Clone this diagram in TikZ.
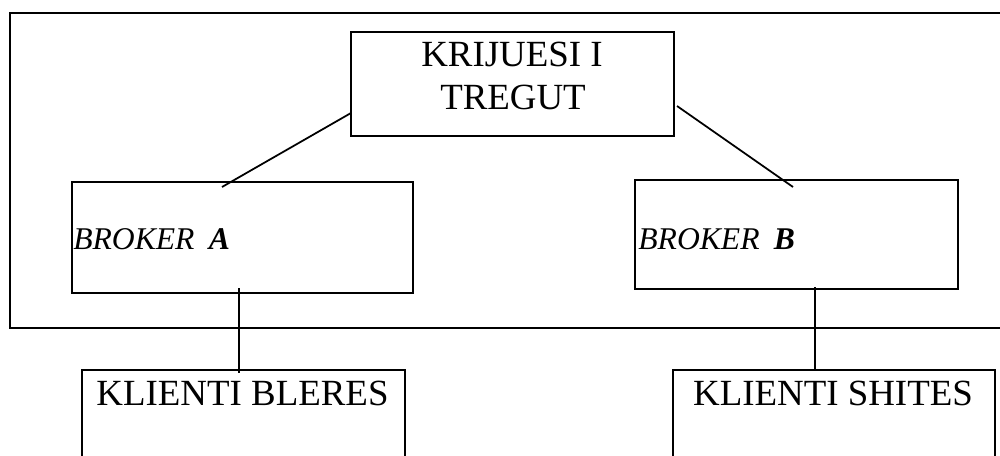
\documentclass[tikz,border=0pt]{standalone}
\usepackage{fontspec}
\setmainfont{Liberation Serif}
\begin{document}
\begin{tikzpicture}[x=0.02cm,y=-0.02cm,
  box/.style={draw,line width=1pt,anchor=north west,inner sep=0pt},
  big/.style={font=\fontsize{21}{25}\selectfont,inner sep=0pt,anchor=base},
  small/.style={font=\fontsize{18}{22}\selectfont\itshape,inner sep=0pt,anchor=base west},
  conn/.style={line width=1pt}]
\useasboundingbox (0,0) rectangle (1000,456);
\clip (0,0) rectangle (1000,456);
\fill[white] (0,0) rectangle (1000,456);
% outer frame
\node[box,minimum width=1010*0.02cm,minimum height=315*0.02cm] (frame) at (9,12) {};
% boxes
\node[box,minimum width=323*0.02cm,minimum height=104*0.02cm] (top) at (350,31) {};
\node[box,minimum width=341*0.02cm,minimum height=111*0.02cm] (ba) at (71,181) {};
\node[box,minimum width=323*0.02cm,minimum height=109*0.02cm] (bb) at (634,179) {};
\node[box,minimum width=323*0.02cm,minimum height=120*0.02cm] (kb) at (81,369) {};
\node[box,minimum width=322*0.02cm,minimum height=120*0.02cm] (ks) at (672,369) {};
% texts
\node[big] (t1) at (512,67) {KRIJUESI I};
\node[big] (t2) at (513,110) {TREGUT};
\node[small] (la) at (73,249) {BROKER\hspace{0.45em}\textbf{A}};
\node[small] (lb) at (638,249) {BROKER\hspace{0.45em}\textbf{B}};
\node[big] (lk1) at (242.5,405) {KLIENTI BLERES};
\node[big] (lk2) at (833,405) {KLIENTI SHITES};
% connector end points
\coordinate (ca1) at (351,113);
\coordinate (ca2) at (222,187);
\coordinate (cb1) at (677,106);
\coordinate (cb2) at (793,187);
\coordinate (va1) at (239,288);
\coordinate (va2) at (239,373);
\coordinate (vb1) at (815,287);
\coordinate (vb2) at (815,370);
\draw[conn] (ca1) -- (ca2);
\draw[conn] (cb1) -- (cb2);
\draw[conn] (va1) -- (va2);
\draw[conn] (vb1) -- (vb2);
\end{tikzpicture}
\end{document}
